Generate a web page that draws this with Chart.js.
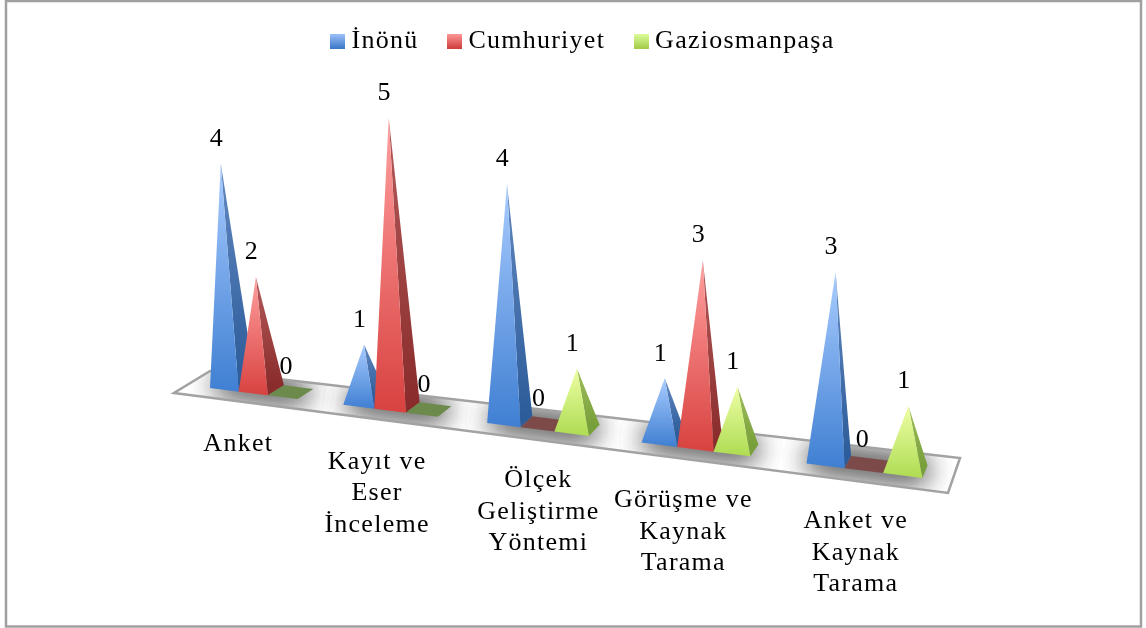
<!DOCTYPE html>
<html><head><meta charset="utf-8">
<style>html,body{margin:0;padding:0;background:#fff}#w{position:absolute;left:0;top:0;width:1146px;height:628px}</style>
<script src="https://cdn.jsdelivr.net/npm/chart.js@4"></script></head>
<body><div id="w"><canvas id="c"></canvas></div>
<script>
const categories = ["Anket", "Kayıt ve\nEser\nİnceleme", "Ölçek\nGeliştirme\nYöntemi", "Görüşme ve\nKaynak\nTarama", "Anket ve\nKaynak\nTarama"];
const inonu = [4, 1, 4, 1, 3];
const cumhuriyet = [2, 5, 0, 3, 0];
const gaziosmanpasa = [0, 0, 1, 1, 1];
const seriesNames = ["İnönü", "Cumhuriyet", "Gaziosmanpaşa"];

const FONT = '"Liberation Serif", serif';
const SPACING = '1.25px';
const palette = [
  {top:'#a9ccff', bottom:'#3f7fd2', sideTop:'#6288c0', sideBottom:'#2c5c9a', flat:'#3d6a9e', legendTop:'#9fc3fb', legendBottom:'#3c78c6'},
  {top:'#ffa0a0', bottom:'#d84240', sideTop:'#b45a5a', sideBottom:'#8a2c2c', flat:'#7d4a4a', legendTop:'#ff9c9c', legendBottom:'#cf3d3b'},
  {top:'#eeffa6', bottom:'#aedc52', sideTop:'#a0bf5c', sideBottom:'#78a03a', flat:'#6c8a4c', legendTop:'#deff9e', legendBottom:'#a3cc48'}
];
const labelNudge = [-5, -3, 11, -2, 2];

/* floor outline: front-left, front-right, back-right, back-left */
const FLOOR = [{x:174,y:393},{x:948,y:493},{x:960,y:458},{x:210,y:371}];
/* oblique view of the floor: u runs along the categories, v is depth across a bar */
function proj(u,v){
  const t=u-1/30;
  const x=210+640*t+132*t*t, y=388+.1264*(x-210);
  return {x:x+v*(16-.0165*(x-270)), y:y+v*(-10-.0038*(x-270))};
}

function swatch(p){
  const c=document.createElement('canvas');c.width=15;c.height=15;
  const x=c.getContext('2d');const g=x.createLinearGradient(0,0,0,15);
  g.addColorStop(0,p.legendTop);g.addColorStop(1,p.legendBottom);
  x.fillStyle=g;x.fillRect(0,0,15,15);return c;
}
const swatches = palette.map(swatch);

function poly(ctx,pts){ctx.beginPath();pts.forEach((p,i)=>i?ctx.lineTo(p.x,p.y):ctx.moveTo(p.x,p.y));ctx.closePath();}
function applySpacing(chart){chart.ctx.letterSpacing=SPACING;}

const pyramids = {
  id:'pyramids',
  beforeUpdate:applySpacing, beforeLayout:applySpacing, beforeDraw:applySpacing,
  afterDatasetsDraw(chart){
    const ctx=chart.ctx, xs=chart.scales.x, ys=chart.scales.y;
    const U=px=>(px-xs.left)/(xs.right-xs.left);
    ctx.save();
    poly(ctx,FLOOR);ctx.fillStyle='#fff';ctx.fill();
    const metas=chart.data.datasets.map((d,i)=>chart.getDatasetMeta(i));
    const marks=[];
    metas.forEach((m,s)=>m.data.forEach((bar,i)=>{
      const hw=bar.width/2,uc=U(bar.x),ul=U(bar.x-hw),ur=U(bar.x+hw);
      const fl=proj(ul,0),fr=proj(ur,0),br=proj(ur,1),bl=proj(ul,1);
      const c=proj(uc,.5);
      const h=(ys.getPixelForValue(0)-bar.y)*(0.965+0.158*uc);
      const apex={x:c.x+(c.x-590)*1.5e-4*h,y:c.y-h};
      marks.push({s,i,fl,fr,br,bl,c,h,apex,value:chart.data.datasets[s].data[i]});
    }));
    /* soft shadows on the floor, one per category group: only the blur is painted */
    ctx.save();poly(ctx,FLOOR);ctx.clip();
    const OFF=3000;
    categories.forEach((_,i)=>{
      const g=marks.filter(m=>m.i===i),a=g[0],b=g[2];
      ctx.save();
      ctx.shadowColor='rgba(0,0,0,.45)';ctx.shadowBlur=28;ctx.shadowOffsetX=OFF;ctx.fillStyle='#000';
      const pts=[a.fl,b.fr,b.br,a.bl].map(p=>({x:p.x-OFF,y:p.y}));
      for(let k=0;k<4;k++){poly(ctx,pts);ctx.fill();}
      ctx.restore();
    });
    ctx.restore();
    poly(ctx,FLOOR);ctx.strokeStyle='#a2a2a2';ctx.lineWidth=2.5;ctx.stroke();
    marks.sort((a,b)=>a.i-b.i||a.s-b.s).forEach(m=>{
      const p=palette[m.s];
      if(m.value===0){poly(ctx,[m.fl,m.fr,m.br,m.bl]);ctx.fillStyle=p.flat;ctx.fill();return;}
      let g=ctx.createLinearGradient(0,m.apex.y,0,m.br.y);
      g.addColorStop(0,p.sideTop);g.addColorStop(1,p.sideBottom);
      poly(ctx,[m.fr,m.br,m.apex]);ctx.fillStyle=g;ctx.fill();
      g=ctx.createLinearGradient(0,m.apex.y,0,m.fr.y);
      g.addColorStop(0,p.top);g.addColorStop(1,p.bottom);
      poly(ctx,[m.fl,m.fr,m.apex]);ctx.fillStyle=g;ctx.fill();
    });
    ctx.font='26px '+FONT;ctx.fillStyle='#000';ctx.textAlign='center';ctx.textBaseline='middle';
    ctx.letterSpacing=SPACING;
    marks.forEach(m=>{ctx.fillText(String(m.value),m.apex.x-4,m.apex.y-24.5);});
    categories.forEach((label,i)=>{
      const uc=U(xs.getPixelForValue(i)),base=proj(uc,0);
      label.split('\n').forEach((line,k)=>ctx.fillText(line,base.x-10+labelNudge[i],base.y+51+k*31.5));
    });
    ctx.restore();
  }
};
const frame={id:'frame',beforeDraw(chart){
  const ctx=chart.ctx;ctx.save();ctx.fillStyle='#fff';ctx.fillRect(0,0,chart.width,chart.height);
  ctx.strokeStyle='#a0a0a0';ctx.lineWidth=2.5;ctx.strokeRect(6,1,1135,625.5);ctx.restore();}};

new Chart(document.getElementById('c'),{
  type:'bar',
  data:{labels:categories,datasets:[
    {label:seriesNames[0],data:inonu},
    {label:seriesNames[1],data:cumhuriyet},
    {label:seriesNames[2],data:gaziosmanpasa}
  ].map(d=>Object.assign(d,{backgroundColor:'rgba(0,0,0,0)',categoryPercentage:2/3,barPercentage:1}))},
  options:{
    responsive:true,maintainAspectRatio:false,animation:false,
    layout:{padding:{left:26,top:-8,right:0,bottom:223}},
    scales:{x:{display:false},y:{display:false,min:0,max:6}},
    plugins:{
      tooltip:{enabled:false},
      legend:{position:'top',labels:{
        font:{family:FONT,size:26},color:'#000',usePointStyle:true,pointStyleWidth:1,padding:36,
        generateLabels:()=>seriesNames.map((n,i)=>({text:n,pointStyle:swatches[i],fillStyle:palette[i].bottom,strokeStyle:'rgba(0,0,0,0)',lineWidth:0,datasetIndex:i,fontColor:'#000'}))
      }}
    }
  },
  plugins:[frame,pyramids]
});
</script></body></html>
